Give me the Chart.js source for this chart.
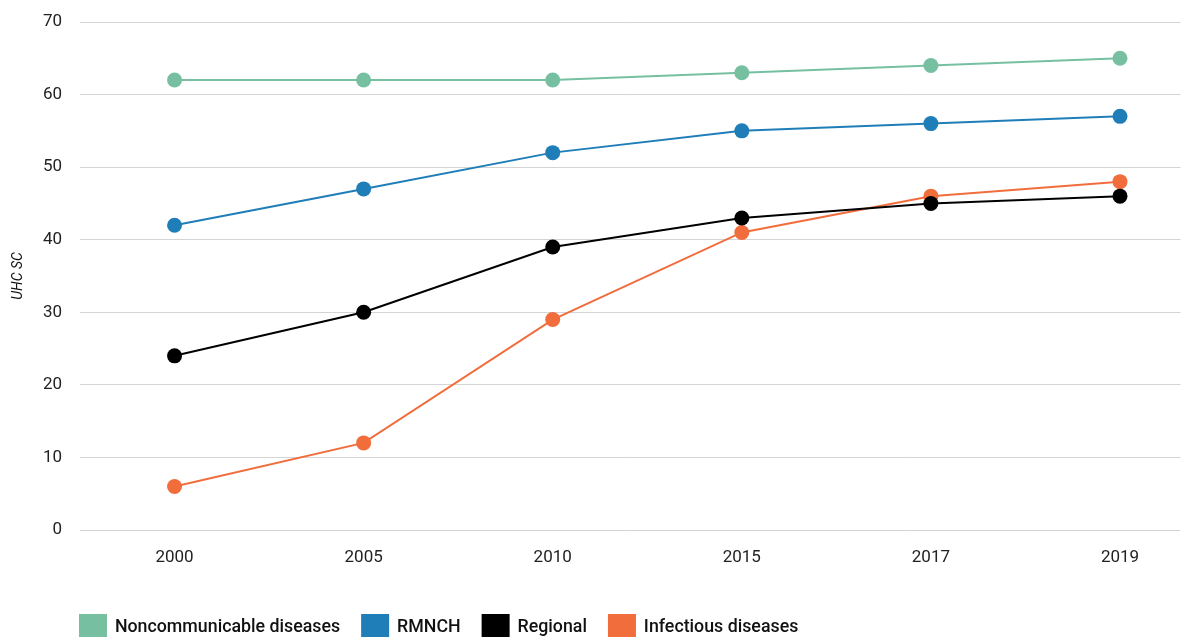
<!DOCTYPE html>
<html>
<head>
<meta charset="utf-8">
<script src="https://cdn.jsdelivr.net/npm/chart.js@4.4.0/dist/chart.umd.min.js"></script>
<style>
  body { margin: 0; overflow: hidden; background: #fff; }
  #wrap { position: relative; width: 1188px; height: 651px; }
</style>
</head>
<body>
<div id="wrap"><canvas id="uhc-chart"></canvas></div>
<script>
// data
const years = ["2000", "2005", "2010", "2015", "2017", "2019"];
const noncommunicable = [62, 62, 62, 63, 64, 65];
const rmnch = [42, 47, 52, 55, 56, 57];
const regional = [24, 30, 39, 43, 45, 46];
const infectious = [6, 12, 29, 41, 46, 48];
const yTicks = [0, 10, 20, 30, 40, 50, 60, 70];

const FONT = "Roboto, 'Liberation Sans', sans-serif";

// x positions are category indexes, so the axis can run past the last year
function toPoints(values) {
    return values.map((v, i) => ({ x: i, y: v }));
}

function makeSet(label, values, color) {
    return {
        label: label,
        data: toPoints(values),
        borderColor: color,
        backgroundColor: color,
        pointBackgroundColor: color,
        pointBorderWidth: 0,
        pointRadius: 7.5,
        pointHoverRadius: 7.5,
        borderWidth: 2,
        fill: false,
        tension: 0
    };
}

const uhcData = {
    datasets: [
        makeSet("Noncommunicable diseases", noncommunicable, "#76c0a1"),
        makeSet("RMNCH", rmnch, "#1f7eb8"),
        makeSet("Regional", regional, "#000000"),
        makeSet("Infectious diseases", infectious, "#f16d3c")
    ]
};

// legend lines up with the plot's left edge, not the canvas edge
const legendShift = {
    id: "legendShift",
    afterLayout(chart) {
        const pad = chart.options.plugins.legend.labels.padding;
        chart.legend.left = chart.chartArea.left - pad;
    }
};

const uhcOptions = {
    responsive: true,
    maintainAspectRatio: false,
    animation: false,
    layout: {
        padding: { top: 22, left: 10, right: 0, bottom: 0 }
    },
    scales: {
        x: {
            type: "linear",
            min: -0.5,
            max: 5.32,
            grid: { display: false, drawTicks: false },
            border: { display: false },
            afterBuildTicks: scale => {
                scale.ticks = years.map((y, i) => ({ value: i }));
            },
            afterFit: scale => {
                scale.height = 63;
                scale.paddingLeft = 0;
                scale.paddingRight = 0;
            },
            ticks: {
                padding: 18,
                color: "#222",
                font: { family: FONT, size: 17 },
                callback: v => years[v]
            }
        },
        y: {
            min: 0,
            max: 70,
            afterBuildTicks: scale => {
                scale.ticks = yTicks.map(v => ({ value: v }));
            },
            afterFit: scale => {
                scale.width = 70;
                scale.paddingTop = 0;
                scale.paddingBottom = 0;
            },
            grid: { color: "#d4d4d4", lineWidth: 1, drawTicks: false },
            border: { display: false },
            ticks: {
                padding: 18,
                color: "#222",
                font: { family: FONT, size: 17 }
            },
            title: {
                display: true,
                text: "UHC SC",
                color: "#111",
                padding: { top: 0, bottom: 0 },
                font: { family: FONT, size: 14, style: "italic" }
            }
        }
    },
    plugins: {
        legend: {
            position: "bottom",
            align: "start",
            labels: {
                boxWidth: 26,
                boxHeight: 26,
                padding: 22,
                color: "#111",
                font: { family: FONT, size: 17.8, weight: "500" }
            }
        },
        tooltip: { enabled: false }
    }
};

const uhcChart = new Chart(document.getElementById("uhc-chart"), {
    type: "line",
    data: uhcData,
    options: uhcOptions,
    plugins: [legendShift]
});
</script>
</body>
</html>
